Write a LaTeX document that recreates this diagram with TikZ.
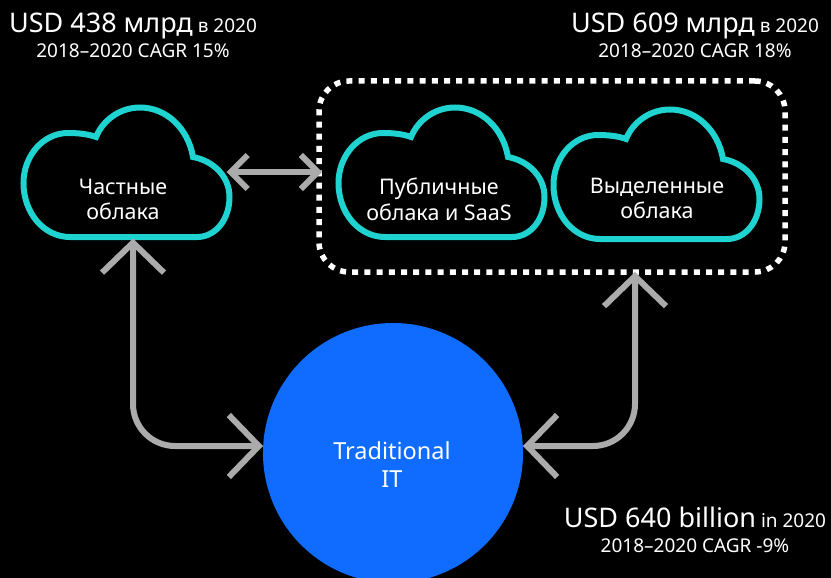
\documentclass[tikz,border=0pt]{standalone}
\usepackage{fontspec}
\setmainfont{Noto Sans}
\usetikzlibrary{arrows.meta}
\definecolor{cloudteal}{HTML}{1FD3D0}
\definecolor{arrowgrey}{HTML}{ABABAB}
\definecolor{tradblue}{HTML}{0F6CFF}
\newcommand{\bigsize}{\fontsize{27}{30}\selectfont}
\newcommand{\midsize}{\fontsize{19}{25}\selectfont}
\newcommand{\lblsize}{\fontsize{21.5}{25.5}\selectfont}
\newcommand{\tradsize}{\fontsize{23.5}{28}\selectfont}
\tikzset{
	cloudbox/.style={minimum width=207pt, minimum height=133pt, inner sep=0pt, outer sep=0pt},
	cloudtext/.style={text=white, align=center, font=\lblsize, inner sep=0pt},
	sumtext/.style={text=white, align=center, font=\midsize, inner sep=0pt},
	bigarrow/.style={draw=arrowgrey, line width=6pt, rounded corners=42pt,
		{Straight Barb[length=30pt,width=62pt]}-{Straight Barb[length=30pt,width=62pt]}},
	smallarrow/.style={draw=arrowgrey, line width=6pt,
		{Straight Barb[length=17pt,width=34pt]}-{Straight Barb[length=17pt,width=34pt]}},
	pics/cloudline/.style={code={
		\draw[cloudteal, line width=6pt] (-56,65) -- (71,65)
			.. controls (90,65) and (103.5,47) .. (103.5,25)
			.. controls (103.5,5) and (88,-11) .. (67,-15)
			.. controls (62,-44) and (40,-64.5) .. (14,-64.5)
			.. controls (-6,-64.5) and (-23,-52) .. (-30,-35)
			.. controls (-38,-38) and (-48,-39) .. (-58,-39)
			.. controls (-83,-39) and (-102.5,-16) .. (-102.5,11)
			.. controls (-102.5,41) and (-82,65) .. (-56,65) -- cycle;
	}}
}
\begin{document}
\begin{tikzpicture}[x=1pt, y=-1pt]
	\useasboundingbox (0,0) rectangle (831,578);
	\clip (0,0) rectangle (831,578);
	\fill[black] (0,0) rectangle (831,578);

	% clouds
	\node[cloudbox] (privcloud) at (126,172) {};
	\node[cloudbox] (pubcloud) at (441,172) {};
	\node[cloudbox] (dedcloud) at (656,174) {};
	\pic at (privcloud) {cloudline};
	\pic at (pubcloud) {cloudline};
	\pic at (dedcloud) {cloudline};
	\node[cloudtext] (privtext) at (123,199.5) {Частные\\облака};
	\node[cloudtext] (pubtext) at (439,199.5) {Публичные\\облака и SaaS};
	\node[cloudtext] (dedtext) at (657,198.5) {Выделенные\\облака};

	% dotted frame and circle
	\node[draw=white, line width=5.5pt, dash pattern=on 6pt off 6.2pt, rounded corners=30pt,
		minimum width=466pt, minimum height=191pt, inner sep=0pt, outer sep=0pt] (pubframe) at (552,176.5) {};
	\node[circle, fill=tradblue, minimum size=260pt, inner sep=0pt, outer sep=0pt] (tradit) at (393,453) {};
	\node[cloudtext, font=\tradsize] (tradtext) at (392,465) {Traditional\\IT};

	% connectors
	\draw[smallarrow] ([xshift=-3pt]privcloud.east) -- ([xshift=3pt]pubframe.west |- privcloud.east);
	\draw[bigarrow] ([xshift=7pt]privcloud.south) |- ([yshift=7pt]tradit.west);
	\draw[bigarrow] ([xshift=83pt]pubframe.south) |- ([yshift=7pt]tradit.east);

	% totals
	\node[sumtext] (privsum) at (133,35) {{\bigsize USD 438 млрд} в 2020\\2018–2020 CAGR 15\%};
	\node[sumtext] (pubsum) at (695,35) {{\bigsize USD 609 млрд} в 2020\\2018–2020 CAGR 18\%};
	\node[sumtext] (tradsum) at (695,530) {{\bigsize USD 640 billion} in 2020\\2018–2020 CAGR -9\%};
\end{tikzpicture}
\end{document}
